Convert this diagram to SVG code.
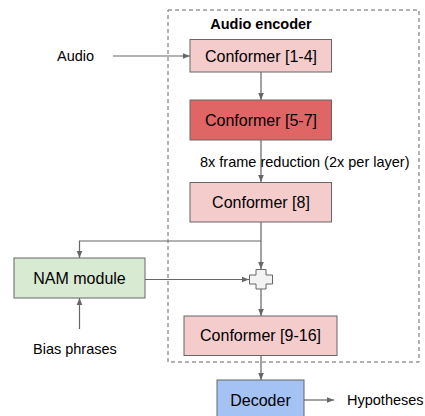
<svg xmlns="http://www.w3.org/2000/svg" width="425" height="416" viewBox="0 0 425 416">
<style>
.box{stroke:#666;stroke-width:1}
.t{font-family:"Liberation Sans",Arial,sans-serif;font-size:16px;fill:#000;text-anchor:middle}
.s{font-family:"Liberation Sans",Arial,sans-serif;font-size:14.5px;fill:#000}
.c{fill:none;stroke:#666;stroke-width:1.2}
</style>
<defs>
<marker id="ah" viewBox="0 0 10 10" refX="10" refY="5" markerWidth="7" markerHeight="7" markerUnits="userSpaceOnUse" orient="auto">
<path d="M0,1 L10,5 L0,9 Z" fill="#666"/>
</marker>
</defs>
<rect x="0" y="0" width="425" height="416" fill="#fff"/>
<g id="encoder">
<rect x="168" y="10" width="251" height="352" fill="none" stroke="#666" stroke-width="1" stroke-dasharray="4,3"/>
<text class="s" x="261" y="29" text-anchor="middle" font-weight="bold">Audio encoder</text>
</g>
<g id="connectors">
<line class="c" x1="113" y1="56" x2="190" y2="56" marker-end="url(#ah)"/>
<line class="c" x1="261" y1="72" x2="261" y2="100" marker-end="url(#ah)"/>
<line class="c" x1="261" y1="140" x2="261" y2="182" marker-end="url(#ah)"/>
<line class="c" x1="261" y1="222" x2="261" y2="269" marker-end="url(#ah)"/>
<polyline class="c" points="261,241 79.5,241 79.5,258" marker-end="url(#ah)"/>
<line class="c" x1="145" y1="279.5" x2="249" y2="279.5" marker-end="url(#ah)"/>
<line class="c" x1="261" y1="289" x2="261" y2="316" marker-end="url(#ah)"/>
<line class="c" x1="79.5" y1="329" x2="79.5" y2="298" marker-end="url(#ah)"/>
<line class="c" x1="261" y1="356" x2="261" y2="380" marker-end="url(#ah)"/>
<line class="c" x1="304" y1="400" x2="334" y2="400" marker-end="url(#ah)"/>
</g>
<g id="audio"><text class="s" x="57" y="61">Audio</text></g>
<g id="conf14">
<rect class="box" x="190" y="39.5" width="141.5" height="32.5" fill="#f4cccc"/>
<text class="t" x="261" y="61.5">Conformer [1-4]</text>
</g>
<g id="conf57">
<rect class="box" x="190" y="100" width="141.5" height="40" fill="#e06666"/>
<text class="t" x="261" y="125.5">Conformer [5-7]</text>
</g>
<g id="reduction"><text class="s" x="200" y="167">8x frame reduction (2x per layer)</text></g>
<g id="conf8">
<rect class="box" x="190" y="182.5" width="141.5" height="39.5" fill="#f4cccc"/>
<text class="t" x="261" y="207.5">Conformer [8]</text>
</g>
<g id="nam">
<rect class="box" x="14" y="258" width="131" height="40" fill="#d9ead3"/>
<text class="t" x="79.5" y="284">NAM module</text>
</g>
<g id="plus">
<path class="box" d="M256,269.5 H266 V275 H272.5 V284 H266 V289 H256 V284 H249.5 V275 H256 Z" fill="#f3f3f3"/>
</g>
<g id="bias"><text class="s" x="33" y="354">Bias phrases</text></g>
<g id="conf916">
<rect class="box" x="184" y="316" width="153" height="39.5" fill="#f4cccc"/>
<text class="t" x="260.5" y="341">Conformer [9-16]</text>
</g>
<g id="decoder">
<rect class="box" x="217" y="380" width="87" height="41" fill="#a4c2f4"/>
<text class="t" x="260.5" y="406">Decoder</text>
</g>
<g id="hyp"><text class="s" x="347" y="405">Hypotheses</text></g>
</svg>
